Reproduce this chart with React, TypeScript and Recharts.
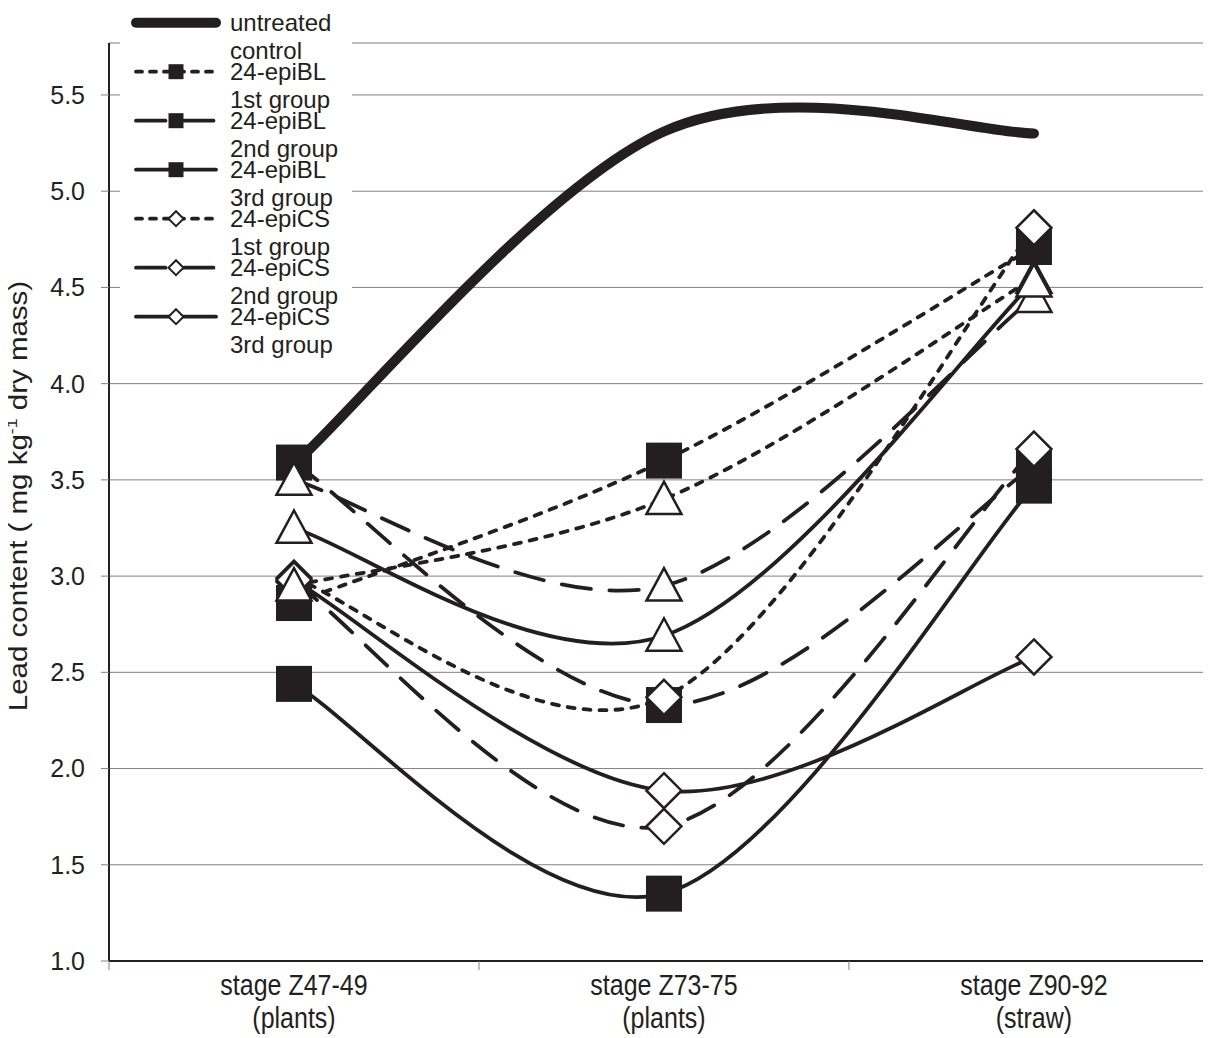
import React from 'react';
import { LineChart, Line, XAxis, YAxis, CartesianGrid, Legend } from 'recharts';

const stageNames = ['stage Z47-49', 'stage Z73-75', 'stage Z90-92'];
const stageParts = ['(plants)', '(plants)', '(straw)'];
const stagePos = [0, 1, 2];

const untreatedControl = [3.58, 5.31, 5.3];
const epiBL1 = [2.86, 3.6, 4.71];
const epiBL2 = [3.59, 2.33, 3.57];
const epiBL3 = [2.44, 1.35, 3.47];
const epiCS1 = [2.99, 2.37, 4.81];
const epiCS2 = [2.97, 1.7, 3.66];
const epiCS3 = [2.98, 1.885, 2.58];
const triangle1 = [2.95, 3.4, 4.55];
const triangle2 = [3.5, 2.95, 4.45];
const triangle3 = [3.25, 2.69, 4.53];

const yTicks = [1, 1.5, 2, 2.5, 3, 3.5, 4, 4.5, 5, 5.5];
const xTicks = [-0.5, 0, 0.5, 1, 1.5, 2];

const INK = '#231f20';
const GRID = '#808080';
const FONT = '"Liberation Sans", Arial, sans-serif';

const SHORT = '7 9';
const LONG = '29.5 18.5';

// drawn in this order, later ones sit on top
const series = [
  { key: 'control', name: 'untreated control', values: untreatedControl },
  { key: 'bl1', name: '24-epiBL 1st group', values: epiBL1 },
  { key: 'bl2', name: '24-epiBL 2nd group', values: epiBL2 },
  { key: 'bl3', name: '24-epiBL 3rd group', values: epiBL3 },
  { key: 'cs1', name: '24-epiCS 1st group', values: epiCS1 },
  { key: 'cs2', name: '24-epiCS 2nd group', values: epiCS2 },
  { key: 'cs3', name: '24-epiCS 3rd group', values: epiCS3 },
  { key: 'tr1', name: 'triangle 1st group', values: triangle1 },
  { key: 'tr2', name: 'triangle 2nd group', values: triangle2 },
  { key: 'tr3', name: 'triangle 3rd group', values: triangle3 },
];

const looks: Record<string, { width: number; dash?: string; marker: string; legend: boolean }> = {
  control: { width: 10, marker: 'none', legend: true },
  bl1: { width: 3.8, dash: SHORT, marker: 'square', legend: true },
  bl2: { width: 3.8, dash: LONG, marker: 'square', legend: true },
  bl3: { width: 3.8, marker: 'square', legend: true },
  cs1: { width: 3.8, dash: SHORT, marker: 'diamond', legend: true },
  cs2: { width: 3.8, dash: LONG, marker: 'diamond', legend: true },
  cs3: { width: 3.8, marker: 'diamond', legend: true },
  tr1: { width: 3.8, dash: SHORT, marker: 'triangle', legend: false },
  tr2: { width: 3.8, dash: LONG, marker: 'triangle', legend: false },
  tr3: { width: 3.8, marker: 'triangle', legend: false },
};

const data = stagePos.map((x, i) => {
  const row: Record<string, number> = { x };
  series.forEach((s) => {
    row[s.key] = s.values[i];
  });
  return row;
});

// Excel-like smoothed line (bezier, 1/6 tangents)
const excelSmooth = (context: any) => {
  let pts: number[][] = [];
  return {
    areaStart() {},
    areaEnd() {},
    lineStart() {
      pts = [];
    },
    point(x: number, y: number) {
      pts.push([+x, +y]);
    },
    lineEnd() {
      if (!pts.length) return;
      context.moveTo(pts[0][0], pts[0][1]);
      for (let i = 0; i < pts.length - 1; i++) {
        const p0 = pts[Math.max(0, i - 1)];
        const p1 = pts[i];
        const p2 = pts[i + 1];
        const p3 = pts[Math.min(pts.length - 1, i + 2)];
        context.bezierCurveTo(
          p1[0] + (p2[0] - p0[0]) / 6,
          p1[1] + (p2[1] - p0[1]) / 6,
          p2[0] - (p3[0] - p1[0]) / 6,
          p2[1] - (p3[1] - p1[1]) / 6,
          p2[0],
          p2[1]
        );
      }
    },
  };
};

function markerShape(kind: string, cx: number, cy: number, size: number, sw: number) {
  const h = size / 2;
  if (kind === 'square') {
    return <rect x={cx - h} y={cy - h} width={size} height={size} fill={INK} />;
  }
  if (kind === 'diamond') {
    return (
      <polygon
        points={`${cx},${cy - h} ${cx + h},${cy} ${cx},${cy + h} ${cx - h},${cy}`}
        fill="#fff"
        stroke={INK}
        strokeWidth={sw}
      />
    );
  }
  if (kind === 'triangle') {
    return (
      <polygon
        points={`${cx},${cy - h} ${cx + h},${cy + h * 0.85} ${cx - h},${cy + h * 0.85}`}
        fill="#fff"
        stroke={INK}
        strokeWidth={sw}
      />
    );
  }
  return null;
}

const makeDot = (key: string) => (props: any) => {
  const { cx, cy, index } = props;
  const kind = looks[key].marker;
  const size = kind === 'square' ? 36 : 35;
  return <g key={`${key}-${index}`}>{markerShape(kind, cx, cy, size, 2.5)}</g>;
};

const StageTick = ({ x, y, payload }: any) => {
  const v = payload.value;
  if (!Number.isInteger(v)) {
    return <line x1={x} x2={x} y1={y} y2={y + 9} stroke={GRID} strokeWidth={1} />;
  }
  // the original labels are a little taller than plain Arial
  return (
    <text
      transform={`translate(${x} ${y}) scale(1 1.2)`}
      textAnchor="middle"
      fontSize={25}
      fill={INK}
      fontFamily={FONT}
    >
      <tspan x={0} y={28.5}>{stageNames[v]}</tspan>
      <tspan x={0} y={56}>{stageParts[v]}</tspan>
    </text>
  );
};

const YTitle = ({ viewBox }: any) => {
  const cx = viewBox.x + 27;
  const cy = viewBox.y + viewBox.height / 2 - 6;
  return (
    <text
      x={0}
      y={0}
      transform={`translate(${cx} ${cy}) rotate(-90) scale(1.18 1)`}
      textAnchor="middle"
      fontSize={25}
      fill={INK}
      fontFamily={FONT}
    >
      Lead content ( mg kg
      <tspan fontSize={15} dy={-10}>-1</tspan>
      <tspan dy={10}> dry mass)</tspan>
    </text>
  );
};

const LegendBox = () => {
  const items = series.filter((s) => looks[s.key].legend);
  return (
    <svg width={232} height={365} style={{ display: 'block', background: '#fff' }}>
      {items.map((s, i) => {
        const st = looks[s.key];
        const y = 22.7 + i * 49;
        const words = s.name.split(' ');
        return (
          <g key={s.key}>
            <line
              x1={16}
              x2={96}
              y1={y}
              y2={y}
              stroke={INK}
              strokeWidth={st.width}
              strokeDasharray={st.dash === SHORT ? '6 8' : st.dash}
              strokeLinecap="round"
            />
            {markerShape(st.marker, 56, y, 15, 2)}
            <text x={110} y={y + 8} fontSize={24} fill={INK} fontFamily={FONT}>
              {words[0]}
              <tspan x={110} dy={28.5}>
                {words.slice(1).join(' ')}
              </tspan>
            </text>
          </g>
        );
      })}
    </svg>
  );
};

export default function App() {
  return (
    <div style={{ marginLeft: -8, marginTop: -8, background: '#fff' }}>
      <LineChart
        width={1211}
        height={1038}
        data={data}
        margin={{ top: 43, right: 5, bottom: 0, left: 0 }}
      >
        <CartesianGrid vertical={false} stroke={GRID} strokeWidth={1} />
        <XAxis
          dataKey="x"
          type="number"
          domain={[-0.5, 2.465]}
          ticks={xTicks}
          interval={0}
          tickLine={false}
          tickSize={0}
          tickMargin={0}
          height={77}
          axisLine={{ stroke: INK, strokeWidth: 2 }}
          tick={<StageTick />}
        />
        <YAxis
          type="number"
          domain={[1, 5.77]}
          ticks={yTicks}
          interval={0}
          width={109}
          tickSize={8}
          tickMargin={16}
          tickFormatter={(v: number) => v.toFixed(1)}
          axisLine={{ stroke: INK, strokeWidth: 2 }}
          tickLine={{ stroke: GRID }}
          tick={{ fontSize: 25, fill: INK, fontFamily: FONT }}
          label={<YTitle />}
        />
        <Legend
          layout="vertical"
          align="center"
          verticalAlign="middle"
          wrapperStyle={{ left: 120, top: 0, width: 232, height: 365 }}
          content={<LegendBox />}
        />
        {series.map((s) => (
          <Line
            key={s.key}
            dataKey={s.key}
            name={s.name}
            type={excelSmooth as any}
            stroke={INK}
            strokeWidth={looks[s.key].width}
            strokeDasharray={looks[s.key].dash}
            strokeLinecap="round"
            dot={looks[s.key].marker === 'none' ? false : makeDot(s.key)}
            activeDot={false}
            legendType={looks[s.key].legend ? 'line' : 'none'}
            isAnimationActive={false}
          />
        ))}
      </LineChart>
    </div>
  );
}
